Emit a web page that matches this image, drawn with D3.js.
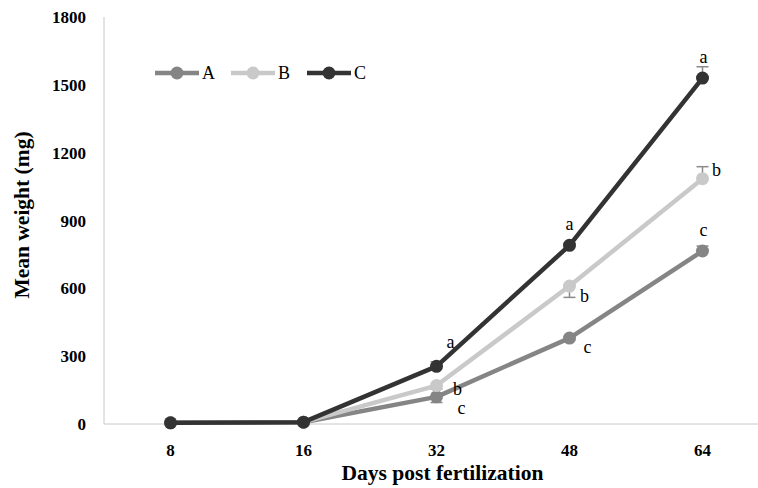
<!DOCTYPE html>
<html>
<head>
<meta charset="utf-8">
<script src="https://cdn.jsdelivr.net/npm/d3@7"></script>
<style>
  body { margin: 0; background: #fff; }
  text { font-family: "Liberation Serif", "Times New Roman", serif; }
</style>
</head>
<body>
<svg width="758" height="488"></svg>
<script>
// data
let days = ["8", "16", "32", "48", "64"];
let seriesNames = ["A", "B", "C"];
let valuesA = [5, 8, 120, 380, 765];
let valuesB = [5, 8, 170, 610, 1085];
let valuesC = [5, 8, 255, 790, 1530];
let errA = [0, 0, 25, 10, 22];
let errB = [0, 0, 15, 50, 53];
let errC = [0, 0, 20, 10, 50];
let lettersA = ["", "", "c", "c", "c"];
let lettersB = ["", "", "b", "b", "b"];
let lettersC = ["", "", "a", "a", "a"];
let yTicks = [0, 300, 600, 900, 1200, 1500, 1800];

let colors = {A: "#858585", B: "#c9c9c9", C: "#333333"};

let svg = d3.select("svg"),
    margin = {left: 104, top: 17, bottom: 64},
    height = +svg.attr("height");

let x = d3.scalePoint()
    .domain(days)
    .range([margin.left, margin.left + 665])
    .padding(0.5);

let y = d3.scaleLinear()
    .domain([0, 1800])
    .range([height - margin.bottom, margin.top]);

// axes lines
svg.append("line")
    .attr("x1", margin.left).attr("x2", margin.left)
    .attr("y1", y(1800)).attr("y2", y(0))
    .attr("stroke", "#c8c8c8");
svg.append("line")
    .attr("x1", margin.left).attr("x2", 758)
    .attr("y1", y(0)).attr("y2", y(0))
    .attr("stroke", "#c8c8c8");

svg.append("g")
    .selectAll("text")
    .data(yTicks)
    .join("text")
    .attr("x", 86)
    .attr("y", d => y(d) + 6)
    .attr("text-anchor", "end")
    .attr("font-weight", "bold")
    .attr("font-size", 17)
    .text(d => d);

svg.append("g")
    .selectAll("text")
    .data(days)
    .join("text")
    .attr("x", d => x(d))
    .attr("y", 456)
    .attr("text-anchor", "middle")
    .attr("font-weight", "bold")
    .attr("font-size", 17)
    .text(d => d);

svg.append("text")
    .attr("x", x("32") + 6)
    .attr("y", 480)
    .attr("text-anchor", "middle")
    .attr("font-weight", "bold")
    .attr("font-size", 21.5)
    .text("Days post fertilization");

svg.append("text")
    .attr("transform", "translate(29,215) rotate(-90)")
    .attr("text-anchor", "middle")
    .attr("font-weight", "bold")
    .attr("font-size", 21.5)
    .text("Mean weight (mg)");

let series = [
    {name: "A", values: valuesA, err: errA, letters: lettersA},
    {name: "B", values: valuesB, err: errB, letters: lettersB},
    {name: "C", values: valuesC, err: errC, letters: lettersC}
];

let line = d3.line()
    .x((d, i) => x(days[i]))
    .y(d => y(d));

// error bars (drawn beneath the lines)
// direction: +1 up, -1 down
let errDir = {A: [0, 0, -1, -1, 1], B: [0, 0, -1, -1, 1], C: [0, 0, 1, 1, 1]};
series.forEach(s => {
    s.values.forEach((v, i) => {
        if (!s.err[i]) return;
        let cx = x(days[i]),
            y0 = y(v),
            y1 = y(v + errDir[s.name][i] * s.err[i]);
        svg.append("line")
            .attr("x1", cx).attr("x2", cx)
            .attr("y1", y0).attr("y2", y1)
            .attr("stroke", "#8a8a8a").attr("stroke-width", 1.5);
        svg.append("line")
            .attr("x1", cx - 6).attr("x2", cx + 6)
            .attr("y1", y1).attr("y2", y1)
            .attr("stroke", "#8a8a8a").attr("stroke-width", 1.5);
    });
});

series.forEach(s => {
    let g = svg.append("g");
    g.append("path")
        .datum(s.values)
        .attr("fill", "none")
        .attr("stroke", colors[s.name])
        .attr("stroke-width", 4.5)
        .attr("stroke-linejoin", "round")
        .attr("d", line);
    g.selectAll("circle")
        .data(s.values)
        .join("circle")
        .attr("cx", (d, i) => x(days[i]))
        .attr("cy", d => y(d))
        .attr("r", 6.5)
        .attr("fill", colors[s.name]);
});

// significance letters, offsets from each point
let letterOffsets = {
    A: [null, null, [25, 12], [18, 10], [1, -20]],
    B: [null, null, [21, 4], [15, 11], [14, -8]],
    C: [null, null, [14, -23], [0, -20], [1, -20]]
};
series.forEach(s => {
    s.letters.forEach((l, i) => {
        if (!l) return;
        let o = letterOffsets[s.name][i];
        svg.append("text")
            .attr("x", x(days[i]) + o[0])
            .attr("y", y(s.values[i]) + o[1] + 5)
            .attr("text-anchor", "middle")
            .attr("font-size", 18)
            .text(l);
    });
});

// legend
let legend = svg.append("g")
    .selectAll("g")
    .data(seriesNames)
    .join("g")
    .attr("transform", (d, i) => "translate(" + (155 + i * 76) + ",73)");
legend.append("line")
    .attr("x1", 0).attr("x2", 44)
    .attr("stroke", d => colors[d])
    .attr("stroke-width", 4.5);
legend.append("circle")
    .attr("cx", 22)
    .attr("r", 6.5)
    .attr("fill", d => colors[d]);
legend.append("text")
    .attr("x", 47)
    .attr("y", 6)
    .attr("font-size", 18)
    .text(d => d);
</script>
</body>
</html>
